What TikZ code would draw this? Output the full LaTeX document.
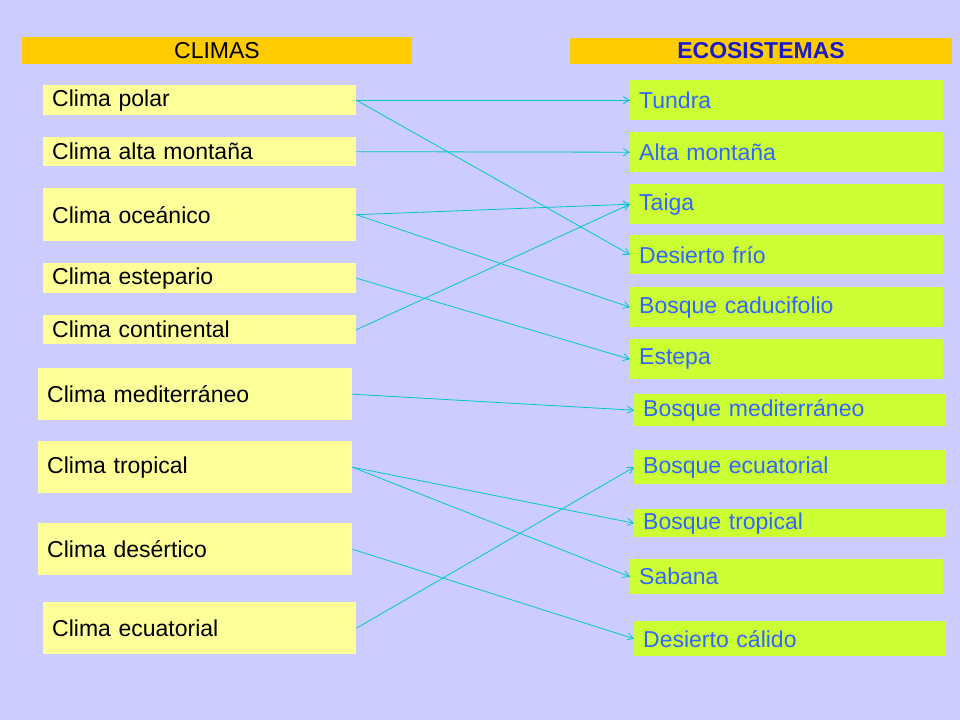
\documentclass[tikz,border=0pt]{standalone}
\usepackage{fontspec}
\setmainfont{Liberation Sans}
\usetikzlibrary{arrows.meta}
\definecolor{bg}{HTML}{CCCCFF}
\definecolor{ly}{HTML}{FFFF99}
\definecolor{gr}{HTML}{CCFF33}
\definecolor{hd}{HTML}{FFCC00}
\definecolor{bt}{HTML}{3366FF}
\definecolor{hb}{HTML}{1A1ACC}
\definecolor{ln}{HTML}{00C8C8}
\begin{document}
\begin{tikzpicture}[x=1pt,y=-1pt,
  box/.style={anchor=north west,inner xsep=9pt,inner ysep=0pt,align=left,font=\fontsize{23}{25}\selectfont},
  lbox/.style={box,fill=ly,text=black},
  rbox/.style={box,fill=gr,text=bt},
  hdr/.style={fill=hd,inner sep=0pt,font=\fontsize{23}{25}\selectfont},
  conn/.style={ln,line width=0.8pt,-{Straight Barb[length=6pt,width=7pt]}}]
\fill[bg] (0,0) rectangle (960,720);
\useasboundingbox (0,0) rectangle (960,720);
\node[hdr,minimum width=390,minimum height=27] (h1) at (217,50.5) {CLIMAS};
\node[hdr,minimum width=382,minimum height=26,text=hb,font=\fontsize{23}{25}\selectfont\bfseries] (h2) at (761,51) {ECOSISTEMAS};
\newcommand{\lb}[6]{\node[lbox,text width=#4-18,minimum height=#5] (#1) at (#2,#3) {#6};}
\newcommand{\rb}[6]{\node[rbox,text width=#4-18,minimum height=#5] (#1) at (#2,#3) {#6};}
\lb{c1}{43}{85}{313}{30}{Clima polar}
\lb{c2}{43}{137}{313}{29}{Clima alta montaña}
\lb{c3}{43}{188}{313}{53}{Clima oceánico}
\lb{c4}{43}{263}{313}{30}{Clima estepario}
\lb{c5}{43}{315}{313}{29}{Clima continental}
\lb{c6}{38}{368}{314}{52}{Clima mediterráneo}
\lb{c7}{38}{441}{314}{52}{Clima tropical}
\lb{c8}{38}{523}{314}{52}{Clima desértico}
\lb{c9}{43}{602}{313}{52}{Clima ecuatorial}
\rb{e1}{630}{80}{313}{40}{Tundra}
\rb{e2}{630}{132}{313}{40}{Alta montaña}
\rb{e3}{630}{184}{313}{40}{Taiga}
\rb{e4}{630}{235}{313}{39}{Desierto frío}
\rb{e5}{630}{287}{313}{40}{Bosque caducifolio}
\rb{e6}{630}{339}{313}{40}{Estepa}
\rb{e7}{634}{394}{312}{32}{Bosque mediterráneo}
\rb{e8}{634}{450}{312}{34}{Bosque ecuatorial}
\rb{e9}{634}{509}{312}{28}{Bosque tropical}
\rb{e10}{630}{559}{313}{35}{Sabana}
\rb{e11}{634}{621}{312}{35}{Desierto cálido}
\draw[conn] (c1.east) -- (e1.west);
\draw[conn] (c1.east) -- (e4.west);
\draw[conn] (c2.east) -- (e2.west);
\draw[conn] (c3.east) -- (e3.west);
\draw[conn] (c3.east) -- (e5.west);
\draw[conn] (c4.east) -- (e6.west);
\draw[conn] (c5.east) -- (e3.west);
\draw[conn] (c6.east) -- (e7.west);
\draw[conn] (c7.east) -- (e9.west);
\draw[conn] (c7.east) -- (e10.west);
\draw[conn] (c8.east) -- (e11.west);
\draw[conn] (c9.east) -- (e8.west);
\end{tikzpicture}
\end{document}
